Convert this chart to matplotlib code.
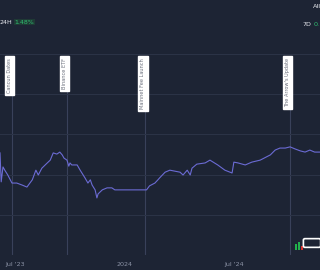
import matplotlib
matplotlib.use("Agg")
import matplotlib.pyplot as plt
import matplotlib.transforms as mtransforms
from matplotlib.patches import Rectangle, FancyBboxPatch
import pandas as pd

# ---- data ----
dates = ["2023-06-06", "2023-06-08", "2023-06-11", "2023-06-14", "2023-06-19",
         "2023-06-26", "2023-07-04", "2023-07-13", "2023-07-21", "2023-07-30",
         "2023-08-05", "2023-08-09", "2023-08-15", "2023-08-24", "2023-08-29",
         "2023-09-03", "2023-09-09", "2023-09-14", "2023-09-18", "2023-09-21",
         "2023-09-26", "2023-09-29", "2023-10-01", "2023-10-04", "2023-10-13",
         "2023-10-18", "2023-10-26", "2023-10-31", "2023-11-04", "2023-11-07",
         "2023-11-12", "2023-11-15", "2023-11-17", "2023-11-24", "2023-12-02",
         "2023-12-10", "2023-12-15", "2023-12-20", "2024-01-01", "2024-01-17",
         "2024-01-29", "2024-02-06", "2024-02-11", "2024-02-20", "2024-02-25",
         "2024-02-28", "2024-03-08", "2024-03-16", "2024-04-02", "2024-04-07",
         "2024-04-14", "2024-04-19", "2024-04-22", "2024-04-30", "2024-05-14",
         "2024-05-22", "2024-06-04", "2024-06-16", "2024-06-28", "2024-07-01",
         "2024-07-08", "2024-07-20", "2024-07-31", "2024-08-14", "2024-08-31",
         "2024-09-08", "2024-09-16", "2024-09-25", "2024-10-03", "2024-10-11",
         "2024-10-20", "2024-10-28", "2024-11-05", "2024-11-13", "2024-11-22"]
values = [2.54, 1.82, 2.19, 2.11, 1.99,
          1.79, 1.79, 1.74, 1.69, 1.87,
          2.11, 1.99, 2.16, 2.29, 2.36,
          2.54, 2.51, 2.56, 2.49, 2.41,
          2.36, 2.21, 2.29, 2.24, 2.24,
          2.11, 1.92, 1.79, 1.87, 1.74,
          1.62, 1.42, 1.52, 1.62, 1.67,
          1.67, 1.62, 1.62, 1.62, 1.62,
          1.62, 1.62, 1.72, 1.79, 1.87,
          1.92, 2.06, 2.11, 2.06, 1.99,
          2.11, 1.99, 2.16, 2.26, 2.29,
          2.36, 2.24, 2.11, 2.04, 2.31,
          2.29, 2.24, 2.31, 2.36, 2.49,
          2.61, 2.66, 2.66, 2.69, 2.64,
          2.59, 2.56, 2.61, 2.56, 2.56]

event_dates = ["2023-06-26", "2023-09-26", "2024-02-04", "2024-10-03"]
event_labels = ["Cancun Dates", "Binance ETF", "Mainnet Fee Launch", "The Arrow's Update"]

tick_dates = ["2023-07-01", "2024-01-01", "2024-07-01"]
tick_labels = ["Jul '23", "2024", "Jul '24"]

x_start, x_end = "2023-06-06", "2024-11-22"
y_grid = [0, 1, 2, 3, 4, 5]

# ---- style ----
BG = "#1d2434"
GRID = "#2b3346"
LINE = "#6b6bd4"
GREEN = "#2fbf71"

fig = plt.figure(figsize=(3.2, 2.7), dpi=100, facecolor=BG)
ax = fig.add_axes([0, 15 / 270, 1, (255 - 40) / 270])
ax.set_facecolor(BG)

x = pd.to_datetime(dates)
ax.plot(x, values, color=LINE, lw=0.8)

ax.set_xlim(pd.Timestamp(x_start), pd.Timestamp(x_end))
ax.set_ylim(0, (255 - 40) / 40.2)
ax.set_yticks(y_grid)
ax.grid(axis="y", color=GRID, lw=0.8)
ax.tick_params(axis="y", left=False, labelleft=False)
ax.set_xticks(pd.to_datetime(tick_dates))
ax.set_xticklabels(tick_labels, color="#8b92a5", fontsize=4.6)
ax.tick_params(axis="x", length=0, pad=5)
for s in ax.spines.values():
    s.set_visible(False)

trans = mtransforms.blended_transform_factory(ax.transData, fig.transFigure)
for d, lab in zip(pd.to_datetime(event_dates), event_labels):
    ax.axvline(d, ymax=(255 - 57) / 215, color="#39415a", lw=0.8, zorder=1)
    ax.text(d, 1 - 58 / 270, lab, transform=trans, rotation=90,
            ha="right", va="top", fontsize=3.6, color="#6a6f7c",
            bbox=dict(boxstyle="square,pad=0.45", fc="white", ec="white"),
            zorder=5)

# header
fig.text(0.0, 1 - 22 / 270, "24H", color="#e8eaf0", fontsize=4.5, va="center", ha="left")
fig.text(0.046, 1 - 22 / 270, "1.48%", color=GREEN, fontsize=4.5, va="center", ha="left",
         bbox=dict(boxstyle="square,pad=0.15", fc="#1f3a35", ec="none"))
fig.text(0.978, 1 - 7 / 270, "All", color="#e8eaf0", fontsize=4.6, va="center", ha="left")
fig.text(0.945, 1 - 24 / 270, "7D", color="#e8eaf0", fontsize=4.6, va="center", ha="left")
fig.text(0.981, 1 - 24 / 270, "0.", color=GREEN, fontsize=4.6, va="center", ha="left")

# small logo (bottom-right)
for (x0, h, c) in [(295, 6, "#22b14c"), (298, 8, "#22b14c"), (301, 4, "#d9322f")]:
    fig.add_artist(Rectangle((x0 / 320, (270 - 250) / 270), 2 / 320, h / 270,
                             transform=fig.transFigure, fc=c, ec="none"))
fig.add_artist(FancyBboxPatch((305 / 320, (270 - 246) / 270), 14 / 320, 6 / 270,
                              boxstyle="round,pad=0.005", transform=fig.transFigure,
                              fc="none", ec="white", lw=1.2))

fig.savefig("out.png", dpi=100, facecolor=BG)
